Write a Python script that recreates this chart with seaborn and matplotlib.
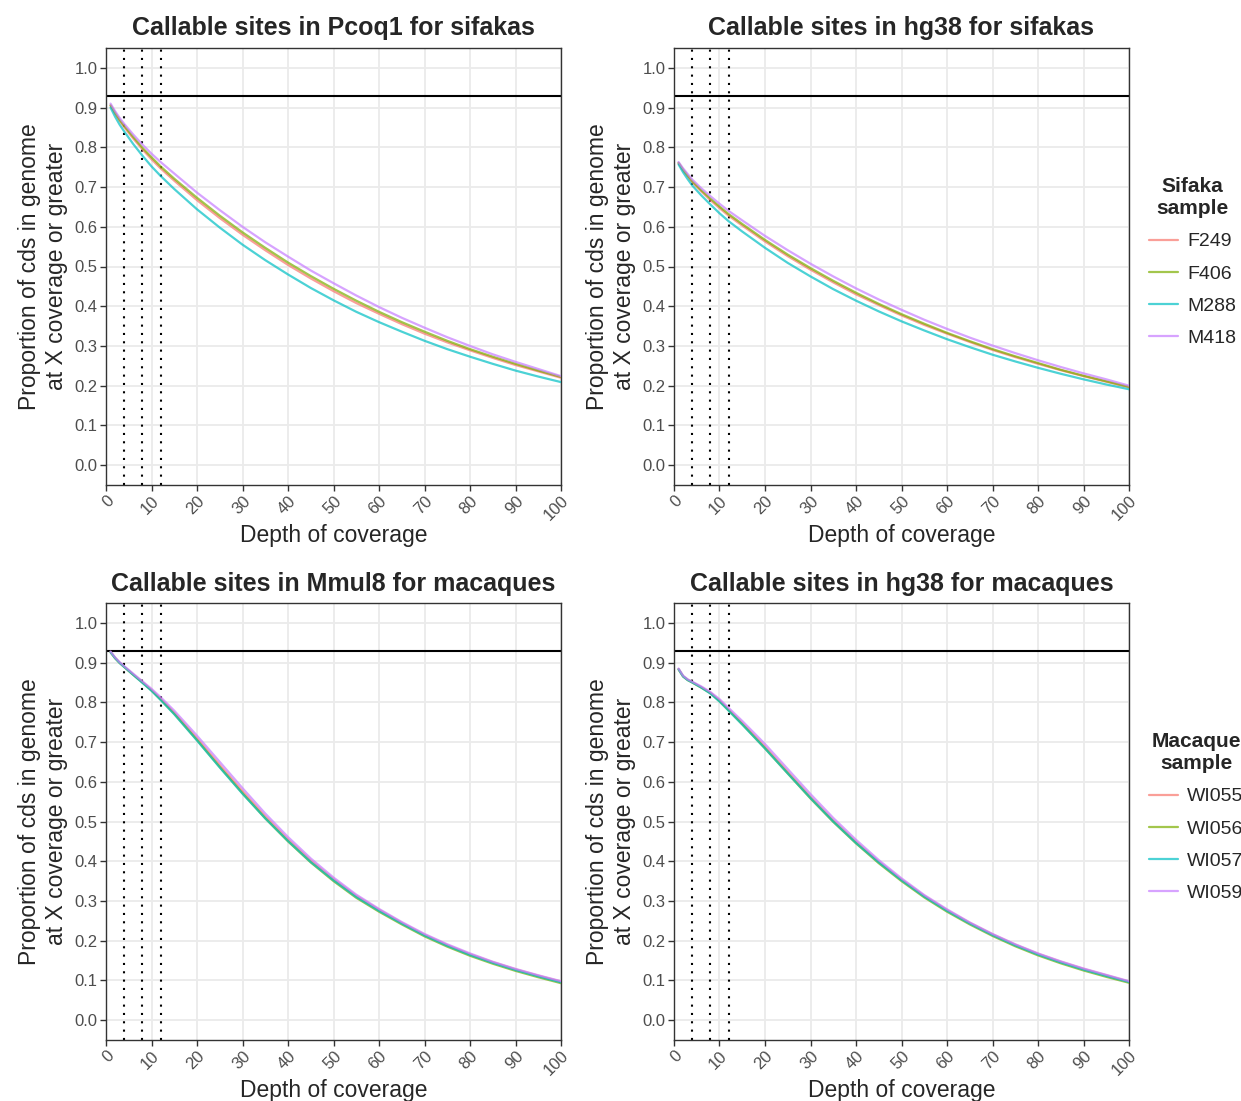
import matplotlib
matplotlib.use("Agg")
import matplotlib.pyplot as plt
import seaborn as sns
import pandas as pd

# depth of coverage values shared by all curves
depth = [1, 2, 3, 4, 6, 8, 10, 12, 15, 20, 25, 30, 35, 40, 45, 50,
         55, 60, 65, 70, 75, 80, 85, 90, 95, 100]

# Pcoq1 / sifakas
pcoq1 = {
    "F249": [0.905, 0.885, 0.867, 0.851, 0.822, 0.795, 0.770, 0.747, 0.716, 0.667, 0.622, 0.580, 0.541,
             0.504, 0.470, 0.438, 0.408, 0.381, 0.355, 0.331, 0.309, 0.289, 0.270, 0.252, 0.236, 0.220],
    "F406": [0.906, 0.887, 0.869, 0.854, 0.826, 0.799, 0.775, 0.752, 0.721, 0.673, 0.628, 0.586, 0.547,
             0.510, 0.476, 0.444, 0.414, 0.386, 0.360, 0.336, 0.313, 0.292, 0.273, 0.255, 0.238, 0.222],
    "M288": [0.900, 0.877, 0.857, 0.840, 0.808, 0.779, 0.752, 0.728, 0.695, 0.644, 0.598, 0.555, 0.516,
             0.480, 0.446, 0.415, 0.386, 0.360, 0.336, 0.313, 0.292, 0.273, 0.255, 0.238, 0.223, 0.209],
    "M418": [0.910, 0.891, 0.874, 0.859, 0.832, 0.807, 0.784, 0.763, 0.734, 0.686, 0.642, 0.600, 0.561,
             0.525, 0.490, 0.458, 0.427, 0.398, 0.371, 0.346, 0.322, 0.300, 0.279, 0.260, 0.242, 0.224],
}

# hg38 / sifakas
hg38_sifaka = {
    "F249": [0.760, 0.742, 0.727, 0.712, 0.689, 0.667, 0.647, 0.628, 0.603, 0.563, 0.526, 0.492, 0.460,
             0.430, 0.403, 0.377, 0.353, 0.331, 0.310, 0.290, 0.272, 0.255, 0.239, 0.224, 0.210, 0.196],
    "F406": [0.761, 0.744, 0.729, 0.715, 0.692, 0.671, 0.651, 0.632, 0.607, 0.567, 0.530, 0.496, 0.464,
             0.434, 0.406, 0.380, 0.356, 0.333, 0.312, 0.292, 0.274, 0.257, 0.240, 0.225, 0.211, 0.197],
    "M288": [0.757, 0.737, 0.720, 0.704, 0.679, 0.656, 0.634, 0.614, 0.588, 0.547, 0.509, 0.475, 0.443,
             0.414, 0.387, 0.362, 0.339, 0.317, 0.297, 0.278, 0.261, 0.245, 0.230, 0.216, 0.203, 0.191],
    "M418": [0.763, 0.747, 0.733, 0.719, 0.697, 0.677, 0.658, 0.640, 0.616, 0.577, 0.541, 0.507, 0.475,
             0.445, 0.417, 0.391, 0.366, 0.343, 0.321, 0.301, 0.282, 0.264, 0.247, 0.231, 0.216, 0.200],
}

# Mmul8 / macaques
mmul8 = {
    "WI055": [0.927, 0.912, 0.900, 0.890, 0.870, 0.851, 0.831, 0.809, 0.774, 0.709, 0.642, 0.576, 0.513,
              0.455, 0.402, 0.355, 0.313, 0.278, 0.245, 0.215, 0.189, 0.166, 0.146, 0.128, 0.112, 0.097],
    "WI056": [0.926, 0.911, 0.899, 0.889, 0.869, 0.850, 0.830, 0.807, 0.771, 0.705, 0.637, 0.571, 0.508,
              0.450, 0.397, 0.350, 0.308, 0.273, 0.241, 0.211, 0.185, 0.162, 0.142, 0.124, 0.108, 0.093],
    "WI057": [0.926, 0.911, 0.899, 0.889, 0.869, 0.849, 0.829, 0.806, 0.770, 0.704, 0.636, 0.570, 0.508,
              0.451, 0.398, 0.352, 0.310, 0.275, 0.243, 0.213, 0.187, 0.164, 0.144, 0.126, 0.110, 0.095],
    "WI059": [0.928, 0.913, 0.901, 0.891, 0.872, 0.853, 0.834, 0.813, 0.779, 0.716, 0.650, 0.584, 0.520,
              0.461, 0.407, 0.359, 0.316, 0.280, 0.247, 0.217, 0.191, 0.168, 0.147, 0.129, 0.113, 0.098],
}

# hg38 / macaques
hg38_macaque = {
    "WI055": [0.884, 0.866, 0.857, 0.851, 0.838, 0.824, 0.805, 0.782, 0.748, 0.688, 0.625, 0.562, 0.503,
              0.449, 0.399, 0.354, 0.313, 0.277, 0.245, 0.216, 0.190, 0.167, 0.147, 0.129, 0.113, 0.097],
    "WI056": [0.883, 0.865, 0.856, 0.850, 0.837, 0.823, 0.803, 0.780, 0.745, 0.684, 0.621, 0.558, 0.499,
              0.445, 0.395, 0.350, 0.309, 0.273, 0.241, 0.212, 0.186, 0.163, 0.143, 0.125, 0.109, 0.094],
    "WI057": [0.883, 0.865, 0.856, 0.850, 0.837, 0.822, 0.802, 0.779, 0.744, 0.684, 0.621, 0.559, 0.500,
              0.446, 0.397, 0.352, 0.311, 0.275, 0.243, 0.214, 0.188, 0.165, 0.145, 0.127, 0.111, 0.096],
    "WI059": [0.885, 0.867, 0.858, 0.852, 0.840, 0.826, 0.808, 0.786, 0.753, 0.695, 0.632, 0.569, 0.509,
              0.454, 0.403, 0.357, 0.315, 0.279, 0.246, 0.217, 0.191, 0.168, 0.148, 0.130, 0.114, 0.098],
}

titles = ["Callable sites in Pcoq1 for sifakas", "Callable sites in hg38 for sifakas",
          "Callable sites in Mmul8 for macaques", "Callable sites in hg38 for macaques"]
cutoffs = [4, 8, 12]
target_line = 0.93
x_ticks = list(range(0, 101, 10))
y_ticks = [i / 10 for i in range(11)]
hue_colors = ["#F8766D", "#7CAE00", "#00BFC4", "#C77CFF"]


def to_long(series):
    rows = []
    for name, vals in series.items():
        for d, v in zip(depth, vals):
            rows.append({"depth": d, "prop": v, "sample": name})
    return pd.DataFrame(rows)


sns.set_theme(style="white")
plt.rcParams["font.family"] = ["Liberation Sans", "DejaVu Sans"]

fig = plt.figure(figsize=(12.41, 11.01), dpi=100)
W, H = 1241, 1101
panel_w, panel_h = 455, 437
lefts = [106, 674]
tops = [48, 603]

datasets = [pcoq1, hg38_sifaka, mmul8, hg38_macaque]
legend_titles = ["Sifaka\nsample", "Macaque\nsample"]

for i, data in enumerate(datasets):
    row, col = divmod(i, 2)
    ax = fig.add_axes([lefts[col] / W, (H - tops[row] - panel_h) / H, panel_w / W, panel_h / H])
    df = to_long(data)
    sns.lineplot(data=df, x="depth", y="prop", hue="sample", palette=hue_colors,
                 alpha=0.7, linewidth=1.6, ax=ax, legend=(col == 1), zorder=3)

    for c in cutoffs:
        ax.axvline(c, color="black", linestyle=(0, (1, 3)), linewidth=1.5, zorder=2)
    ax.axhline(target_line, color="black", linewidth=1.5, zorder=2)

    ax.set_xlim(0, 100)
    ax.set_ylim(-0.05, 1.05)
    ax.set_xticks(x_ticks)
    ax.set_yticks(y_ticks)
    ax.set_yticklabels([f"{t:.1f}" for t in y_ticks])
    ax.grid(True, color="#EBEBEB", linewidth=1.3, zorder=0)
    ax.set_axisbelow(True)
    for s in ax.spines.values():
        s.set_color("#333333")
        s.set_linewidth(1.0)
    ax.tick_params(axis="both", direction="out", length=4, width=1, color="#333333",
                   labelsize=12, labelcolor="#4D4D4D", bottom=True, left=True, pad=2)
    plt.setp(ax.get_xticklabels(), rotation=45, ha="right", rotation_mode="anchor")

    ax.set_title(titles[i], fontsize=18, fontweight="bold", pad=9)
    ax.set_xlabel("Depth of coverage", fontsize=16.5, labelpad=0)
    ax.set_ylabel("Proportion of cds in genome\nat X coverage or greater", fontsize=16.5, labelpad=5)

    if col == 1:
        leg = ax.legend(title=legend_titles[row], loc="center left",
                        bbox_to_anchor=(1.014, 0.51),
                        frameon=False, fontsize=14, title_fontsize=15,
                        handlelength=1.5, labelspacing=0.75, handletextpad=0.45,
                        borderpad=0.2)
        leg.get_title().set_fontweight("bold")
        leg.get_title().set_multialignment("center")
        for line in leg.get_lines():
            line.set_linewidth(1.6)
            line.set_alpha(0.7)

fig.savefig("out.png", dpi=100)
